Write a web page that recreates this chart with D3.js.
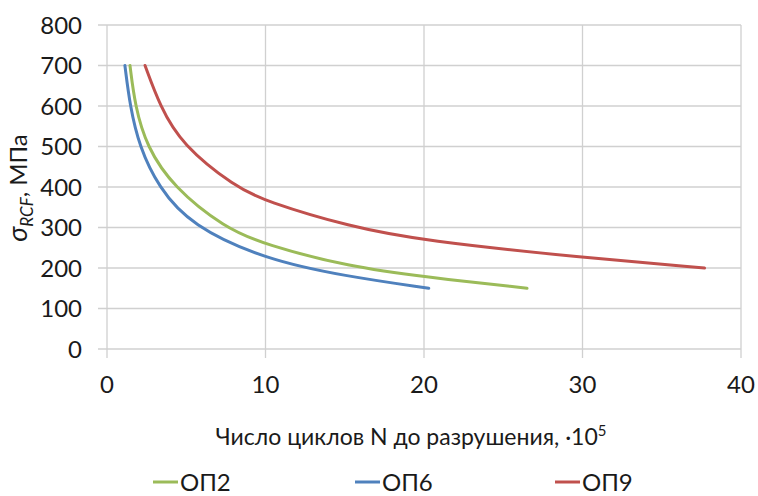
<!DOCTYPE html>
<html>
<head>
<meta charset="utf-8">
<script src="https://cdn.jsdelivr.net/npm/d3@7"></script>
<style>
  body { margin: 0; background: #fff; }
  text { font-family: Lato, "Open Sans", sans-serif; fill: #1a1a1a; }
</style>
</head>
<body>
<div id="chart"></div>
<script>
// cycles N (x10^5) vs stress
const seriesNames = ["ОП2", "ОП6", "ОП9"];
const seriesColors = ["#9bbb59", "#4f81bd", "#c0504d"];

const op2N = [1.45, 1.77, 2.5, 4.18, 7.4, 10, 15.3, 20, 26.5];
const op2S = [700, 600, 500, 400, 300, 257, 203, 178, 150];

const op6N = [1.13, 1.45, 2.04, 3.24, 5.3, 10, 15, 20.3];
const op6S = [700, 600, 500, 400, 305, 221, 180, 150];

const op9N = [2.4, 3.34, 4.71, 8.1, 10, 15.3, 20, 30, 37.7];
const op9S = [700, 600, 505, 400, 365, 302, 267, 226, 200];

const xTicks = [0, 10, 20, 30, 40];
const yTicks = [0, 100, 200, 300, 400, 500, 600, 700, 800];

const width = 758, height = 496;
const margin = {left: 107, right: 17, top: 25, bottom: 147};

const svg = d3.select("#chart").append("svg")
  .attr("width", width)
  .attr("height", height);

const x = d3.scaleLinear().domain([0, 40]).range([margin.left, width - margin.right]);
const y = d3.scaleLinear().domain([0, 800]).range([height - margin.bottom, margin.top]);

// grid
const grid = svg.append("g");
grid.selectAll("line.h")
  .data(yTicks).enter()
  .append("line")
  .attr("x1", x(0) - 9).attr("x2", x(40))
  .attr("y1", d => y(d)).attr("y2", d => y(d))
  .attr("stroke", "#d0d0d0").attr("stroke-width", 1.3);
grid.selectAll("line.v")
  .data(xTicks).enter()
  .append("line")
  .attr("x1", d => x(d)).attr("x2", d => x(d))
  .attr("y1", y(800)).attr("y2", y(0) + 9)
  .attr("stroke", "#d0d0d0").attr("stroke-width", 1.3);

// tick labels
svg.selectAll("text.yt")
  .data(yTicks).enter()
  .append("text")
  .attr("x", x(0) - 25)
  .attr("y", d => y(d))
  .attr("dy", "0.36em")
  .attr("text-anchor", "end")
  .attr("font-size", 24)
  .text(d => d);
svg.selectAll("text.xt")
  .data(xTicks).enter()
  .append("text")
  .attr("x", d => x(d))
  .attr("y", y(0) + 44)
  .attr("text-anchor", "middle")
  .attr("font-size", 24)
  .text(d => d);

// curves
const data = [
  op2N.map((n, i) => [n, op2S[i]]),
  op6N.map((n, i) => [n, op6S[i]]),
  op9N.map((n, i) => [n, op9S[i]])
];
const line = d3.line()
  .x(d => x(d[0]))
  .y(d => y(d[1]))
  .curve(d3.curveBasis);

svg.selectAll("path.curve")
  .data(data).enter()
  .append("path")
  .attr("d", line)
  .attr("fill", "none")
  .attr("stroke", (d, i) => seriesColors[i])
  .attr("stroke-width", 3)
  .attr("stroke-linecap", "round");

// y axis title
const yt = svg.append("text")
  .attr("transform", "translate(27,188) rotate(-90)")
  .attr("text-anchor", "middle")
  .attr("font-size", 24);
yt.append("tspan").attr("font-style", "italic").attr("font-size", 27).text("σ");
yt.append("tspan").attr("font-style", "italic").attr("font-size", 17).attr("dy", 6).text("RCF");
yt.append("tspan").attr("dy", -6).text(", МПа");

// x axis title
const xt = svg.append("text")
  .attr("x", 411)
  .attr("y", 445)
  .attr("text-anchor", "middle")
  .attr("font-size", 23);
xt.append("tspan").text("Число циклов N до разрушения, ·10");
xt.append("tspan").attr("font-size", 15).attr("dy", -9).text("5");

// legend
const legendX = [153, 355, 555];
const lg = svg.selectAll("g.legend")
  .data(seriesNames).enter()
  .append("g")
  .attr("transform", (d, i) => "translate(" + legendX[i] + ",482)");
lg.append("line")
  .attr("x1", 0).attr("x2", 25)
  .attr("stroke", (d, i) => seriesColors[i])
  .attr("stroke-width", 3);
lg.append("text")
  .attr("x", 27)
  .attr("dy", "0.36em")
  .attr("font-size", 24)
  .text(d => d);
</script>
</body>
</html>
